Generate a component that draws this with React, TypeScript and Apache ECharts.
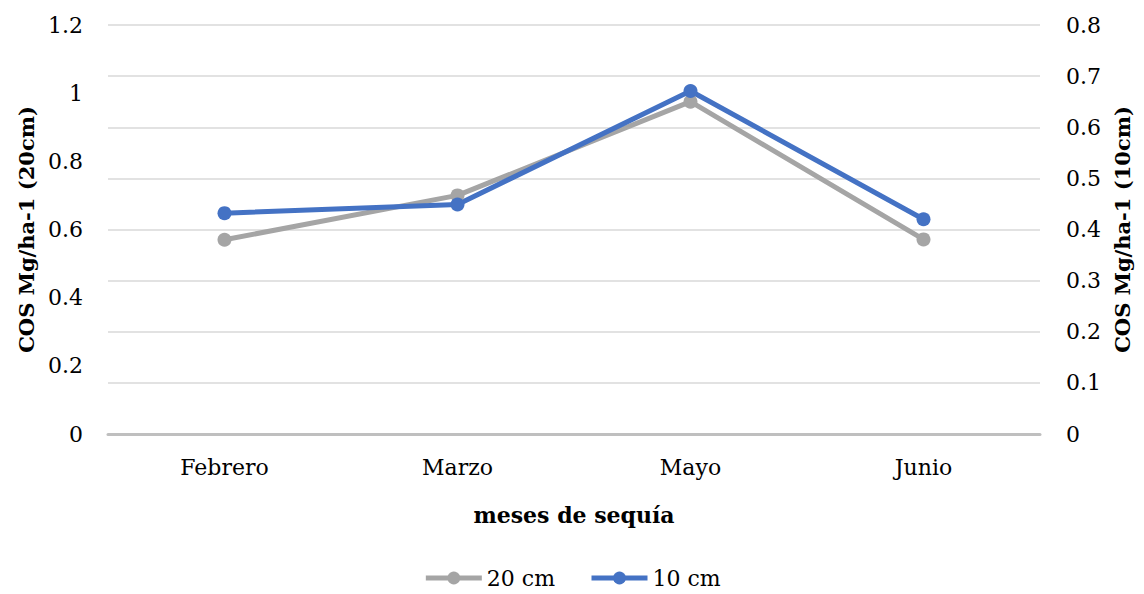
import React, { useEffect, useRef } from "react";
import * as echarts from "echarts";

const categories = ["Febrero", "Marzo", "Mayo", "Junio"];
const series20cm = [0.57, 0.7, 0.975, 0.571];
const series10cm = [0.432, 0.449, 0.671, 0.42];
const leftAxisMax = 1.2;
const leftAxisInterval = 0.2;
const rightAxisMax = 0.8;
const rightAxisInterval = 0.1;

const FONT = "DejaVu Serif";

export default function App() {
  const ref = useRef<HTMLDivElement>(null);
  useEffect(() => {
    if (!ref.current) return;
    const chart = echarts.init(ref.current, null, { renderer: "svg" });
    chart.setOption({
      animation: false,
      backgroundColor: "#ffffff",
      textStyle: { fontFamily: FONT, color: "#000" },
      grid: { left: 108, right: 104, top: 25, bottom: 160 },
      legend: {
        bottom: 0,
        left: "center",
        itemWidth: 56,
        itemHeight: 16,
        itemGap: 34,
        lineStyle: { width: 5 },
        textStyle: { fontFamily: FONT, fontSize: 22, color: "#000" },
        data: ["20 cm", "10 cm"],
      },
      xAxis: {
        type: "category",
        data: categories,
        axisLine: { lineStyle: { color: "#bfbfbf", width: 3 } },
        axisTick: { show: false },
        axisLabel: { fontFamily: FONT, fontSize: 22, color: "#000", margin: 22 },
        name: "meses de sequía",
        nameLocation: "middle",
        nameGap: 70,
        nameTextStyle: { fontFamily: FONT, fontSize: 22, fontWeight: "bold", color: "#000" },
      },
      yAxis: [
        {
          type: "value",
          min: 0,
          max: leftAxisMax,
          interval: leftAxisInterval,
          position: "left",
          splitLine: { show: false },
          axisLine: { show: false },
          axisTick: { show: false },
          axisLabel: {
            fontFamily: FONT,
            fontSize: 22,
            color: "#000",
            margin: 25,
            formatter: (v: number) => String(parseFloat(v.toFixed(2))),
          },
          name: "COS Mg/ha-1 (20cm)",
          nameLocation: "middle",
          nameGap: 67,
          nameRotate: 90,
          nameTextStyle: { fontFamily: FONT, fontSize: 21, fontWeight: "bold", color: "#000" },
        },
        {
          type: "value",
          min: 0,
          max: rightAxisMax,
          interval: rightAxisInterval,
          position: "right",
          splitLine: { show: true, lineStyle: { color: "#d9d9d9", width: 1.5 } },
          axisLine: { show: false },
          axisTick: { show: false },
          axisLabel: {
            fontFamily: FONT,
            fontSize: 22,
            color: "#000",
            margin: 26,
            formatter: (v: number) => String(parseFloat(v.toFixed(2))),
          },
          name: "COS Mg/ha-1 (10cm)",
          nameLocation: "middle",
          nameGap: 70,
          nameRotate: 90,
          nameTextStyle: { fontFamily: FONT, fontSize: 21, fontWeight: "bold", color: "#000" },
        },
      ],
      series: [
        {
          name: "20 cm",
          type: "line",
          yAxisIndex: 0,
          data: series20cm,
          symbol: "circle",
          symbolSize: 14,
          lineStyle: { color: "#a5a5a5", width: 5 },
          itemStyle: { color: "#a5a5a5" },
        },
        {
          name: "10 cm",
          type: "line",
          yAxisIndex: 1,
          data: series10cm,
          symbol: "circle",
          symbolSize: 14,
          lineStyle: { color: "#4472c4", width: 5 },
          itemStyle: { color: "#4472c4" },
        },
      ],
    });
    return () => chart.dispose();
  }, []);
  return <div ref={ref} style={{ width: 1144, height: 594, position: "absolute", left: 0, top: 0 }} />;
}
